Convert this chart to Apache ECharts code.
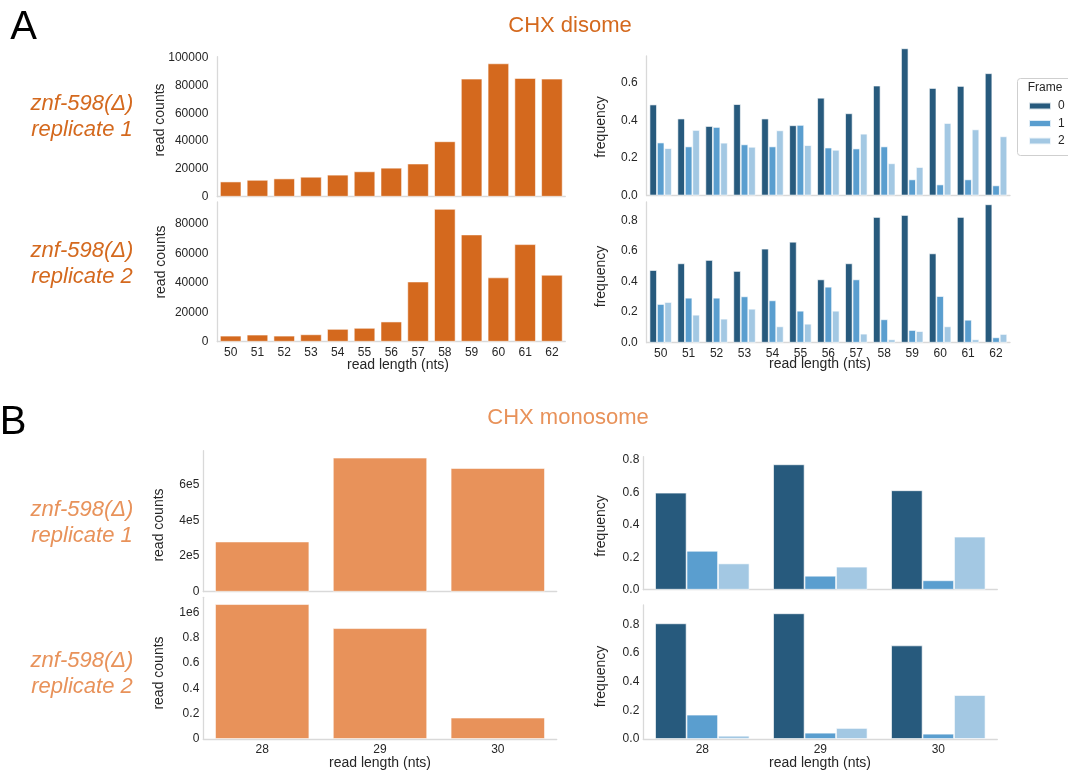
<!DOCTYPE html>
<html>
<head>
<meta charset="utf-8">
<script src="https://cdn.jsdelivr.net/npm/echarts@6/dist/echarts.min.js"></script>
<style>
  html, body { margin: 0; padding: 0; background: #ffffff; }
  #chart { width: 1068px; height: 773px; }
</style>
</head>
<body>
<div id="chart"></div>
<script>
// ---- read-length categories ----
const disomeLengths = ['50', '51', '52', '53', '54', '55', '56', '57', '58', '59', '60', '61', '62'];
const monosomeLengths = ['28', '29', '30'];

// ---- CHX disome: read counts per length ----
const disomeCountsRep1 = [10900, 12100, 13100, 14300, 15800, 18200, 20800, 23800, 39800, 84800, 95800, 85300, 84800];
const disomeCountsRep2 = [4100, 4800, 4100, 5000, 8700, 9400, 13700, 40900, 90300, 72900, 43700, 66300, 45500];

// ---- CHX disome: frame frequencies ----
const disomeFrame0Rep1 = [0.486, 0.411, 0.371, 0.488, 0.411, 0.375, 0.522, 0.439, 0.587, 0.786, 0.574, 0.585, 0.653];
const disomeFrame1Rep1 = [0.283, 0.262, 0.366, 0.273, 0.262, 0.377, 0.256, 0.251, 0.262, 0.086, 0.059, 0.086, 0.054];
const disomeFrame2Rep1 = [0.253, 0.350, 0.282, 0.260, 0.348, 0.269, 0.244, 0.330, 0.172, 0.152, 0.387, 0.353, 0.316];
const disomeFrame0Rep2 = [0.475, 0.519, 0.541, 0.469, 0.615, 0.660, 0.414, 0.519, 0.822, 0.835, 0.584, 0.822, 0.905];
const disomeFrame1Rep2 = [0.253, 0.294, 0.294, 0.303, 0.277, 0.209, 0.366, 0.414, 0.153, 0.083, 0.305, 0.150, 0.035];
const disomeFrame2Rep2 = [0.266, 0.183, 0.157, 0.222, 0.107, 0.124, 0.209, 0.059, 0.022, 0.076, 0.107, 0.022, 0.057];

// ---- CHX monosome: read counts per length ----
const monosomeCountsRep1 = [281000, 751000, 693000];
const monosomeCountsRep2 = [1066000, 876000, 169000];

// ---- CHX monosome: frame frequencies ----
const monosomeFrame0Rep1 = [0.598, 0.773, 0.613];
const monosomeFrame1Rep1 = [0.240, 0.086, 0.058];
const monosomeFrame2Rep1 = [0.162, 0.142, 0.327];
const monosomeFrame0Rep2 = [0.807, 0.877, 0.653];
const monosomeFrame1Rep2 = [0.170, 0.044, 0.037];
const monosomeFrame2Rep2 = [0.023, 0.077, 0.307];

const frameNames = ['0', '1', '2'];

// ---- styling ----
const FONT = '"Liberation Sans", Arial, Helvetica, sans-serif';
const TEXT = '#262626';
const SPINE = '#d9d9d9';
const ORANGE_DARK = '#d4691e';
const ORANGE_LIGHT = '#e8925a';
const BLUES = ['#275a7d', '#5a9ecf', '#a3c8e3'];

const chart = echarts.init(document.getElementById('chart'), null, { renderer: 'canvas' });

// panel layout: [A left r1, A left r2, A right r1, A right r2, B left r1, B left r2, B right r1, B right r2]
const grids = [
  { left: 217.3, top: 56.7, width: 348, height: 140 },
  { left: 217.3, top: 202, width: 348, height: 139.7 },
  { left: 646.7, top: 56, width: 363.3, height: 139.5 },
  { left: 646.7, top: 202, width: 363.3, height: 140.7 },
  { left: 203.3, top: 450.7, width: 353.4, height: 141 },
  { left: 203.3, top: 597.3, width: 353.4, height: 141.7 },
  { left: 643.3, top: 456.7, width: 354, height: 133 },
  { left: 643.3, top: 605, width: 354, height: 134 }
];

function xAxis(gridIndex, cats, showLabels) {
  return {
    type: 'category', gridIndex, data: cats,
    axisLine: { show: true, lineStyle: { color: SPINE, width: 1.3 } },
    axisTick: { show: false },
    axisLabel: { show: showLabels, color: TEXT, fontSize: 12, fontFamily: FONT, margin: 5 },
    splitLine: { show: false }
  };
}

function yAxis(gridIndex, max, interval, formatter, margin) {
  return {
    type: 'value', gridIndex, min: 0, max, interval,
    axisLine: { show: true, lineStyle: { color: SPINE, width: 1.3 } },
    axisTick: { show: false },
    splitLine: { show: false },
    axisLabel: {
      color: TEXT, fontSize: 12, fontFamily: FONT, margin,
      showMaxLabel: false, formatter
    }
  };
}

const countFmt = v => String(Math.round(v));
const freqFmt = v => v.toFixed(1);
const e5Fmt = v => (v === 0 ? '0' : Math.round(v / 1e5) + 'e5');
const e6Fmt = v => {
  if (v === 0) return '0';
  if (Math.abs(v - 1e6) < 1) return '1e6';
  return String(Math.round(v / 1e5) / 10);
};

function countSeries(idx, data, color) {
  return {
    type: 'bar', xAxisIndex: idx, yAxisIndex: idx, data,
    barCategoryGap: '20%',
    itemStyle: { color, borderColor: 'rgba(255,255,255,0.7)', borderWidth: 0.8 },
    silent: true
  };
}

function frameSeries(idx, sets) {
  return sets.map((data, k) => ({
    type: 'bar', name: frameNames[k], xAxisIndex: idx, yAxisIndex: idx, data,
    barGap: '0%', barCategoryGap: '20%', clip: false,
    itemStyle: { color: BLUES[k], borderColor: 'rgba(255,255,255,0.8)', borderWidth: 0.8 },
    silent: true
  }));
}

function label(x, y, text, opts) {
  return {
    type: 'text', x, y, silent: true,
    style: Object.assign({
      text, fill: TEXT, fontSize: 14, fontFamily: FONT,
      align: 'center', verticalAlign: 'middle'
    }, opts || {})
  };
}

function vlabel(x, y, text) {
  const g = label(x, y, text);
  g.rotation = Math.PI / 2;
  return g;
}

const rowLabelStyle = (color) => ({
  fill: color, fontSize: 22, fontStyle: 'italic', lineHeight: 26
});

const option = {
  animation: false,
  backgroundColor: '#ffffff',
  grid: grids.map(g => Object.assign({ containLabel: false }, g)),
  xAxis: [
    xAxis(0, disomeLengths, false),
    xAxis(1, disomeLengths, true),
    xAxis(2, disomeLengths, false),
    xAxis(3, disomeLengths, true),
    xAxis(4, monosomeLengths, false),
    xAxis(5, monosomeLengths, true),
    xAxis(6, monosomeLengths, false),
    xAxis(7, monosomeLengths, true)
  ],
  yAxis: [
    yAxis(0, 100600, 20000, countFmt, 9),
    yAxis(1, 95000, 20000, countFmt, 9),
    yAxis(2, 0.745, 0.2, freqFmt, 9),
    yAxis(3, 0.92, 0.2, freqFmt, 9),
    yAxis(4, 790000, 200000, e5Fmt, 4),
    yAxis(5, 1120000, 200000, e6Fmt, 4),
    yAxis(6, 0.82, 0.2, freqFmt, 4),
    yAxis(7, 0.935, 0.2, freqFmt, 4)
  ],
  legend: {
    data: frameNames,
    orient: 'vertical',
    left: 1023, top: 94,
    itemWidth: 22, itemHeight: 7, itemGap: 3.5,
    icon: 'rect',
    selectedMode: false,
    textStyle: { color: TEXT, fontSize: 12, fontFamily: FONT, lineHeight: 14, padding: [0, 0, 0, 2] }
  },
  series: [
    countSeries(0, disomeCountsRep1, ORANGE_DARK),
    countSeries(1, disomeCountsRep2, ORANGE_DARK),
    ...frameSeries(2, [disomeFrame0Rep1, disomeFrame1Rep1, disomeFrame2Rep1]),
    ...frameSeries(3, [disomeFrame0Rep2, disomeFrame1Rep2, disomeFrame2Rep2]),
    countSeries(4, monosomeCountsRep1, ORANGE_LIGHT),
    countSeries(5, monosomeCountsRep2, ORANGE_LIGHT),
    ...frameSeries(6, [monosomeFrame0Rep1, monosomeFrame1Rep1, monosomeFrame2Rep1]),
    ...frameSeries(7, [monosomeFrame0Rep2, monosomeFrame1Rep2, monosomeFrame2Rep2])
  ],
  graphic: [
    // legend frame and title
    {
      type: 'rect', silent: true, z: -1,
      shape: { x: 1017.5, y: 78.5, width: 70, height: 77, r: 3 },
      style: { fill: '#ffffff', stroke: '#cfcfcf', lineWidth: 1 }
    },
    label(1045, 87.5, 'Frame', { fontSize: 12 }),

    // panel letters
    label(23.5, 28, 'A', { fill: '#000000', fontSize: 40 }),
    label(13, 423, 'B', { fill: '#000000', fontSize: 40 }),

    // section titles
    label(570, 26, 'CHX disome', { fill: ORANGE_DARK, fontSize: 22 }),
    label(568, 418, 'CHX monosome', { fill: ORANGE_LIGHT, fontSize: 22 }),

    // row labels
    label(82, 117, 'znf-598(Δ)\nreplicate 1', rowLabelStyle(ORANGE_DARK)),
    label(82, 264, 'znf-598(Δ)\nreplicate 2', rowLabelStyle(ORANGE_DARK)),
    label(82, 523, 'znf-598(Δ)\nreplicate 1', rowLabelStyle(ORANGE_LIGHT)),
    label(82, 674, 'znf-598(Δ)\nreplicate 2', rowLabelStyle(ORANGE_LIGHT)),

    // y axis titles
    vlabel(160, 120, 'read counts'),
    vlabel(161, 262, 'read counts'),
    vlabel(601, 127, 'frequency'),
    vlabel(601, 276.5, 'frequency'),
    vlabel(159, 525, 'read counts'),
    vlabel(159, 673, 'read counts'),
    vlabel(601, 526, 'frequency'),
    vlabel(601, 676.5, 'frequency'),

    // x axis titles
    label(398, 365, 'read length (nts)'),
    label(820, 364, 'read length (nts)'),
    label(380, 763, 'read length (nts)'),
    label(820, 763, 'read length (nts)')
  ]
};

chart.setOption(option);
</script>
</body>
</html>
